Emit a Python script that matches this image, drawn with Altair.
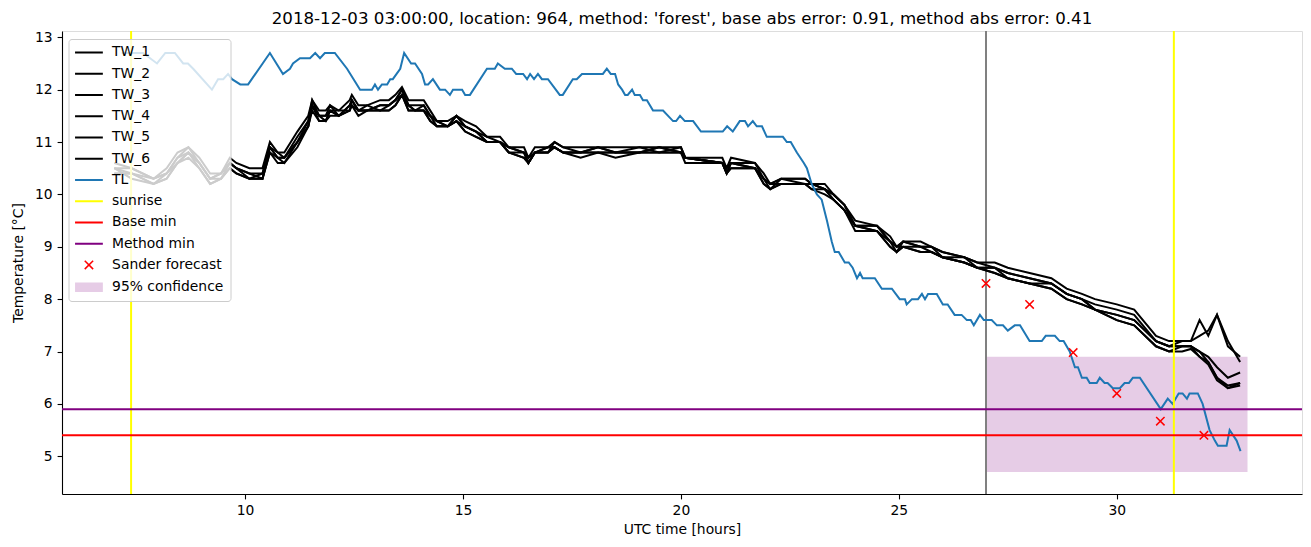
import altair as alt
import pandas as pd

title_text = "2018-12-03 03:00:00, location: 964, method: 'forest', base abs error: 0.91, method abs error: 0.41"

# ---- road (TW) sensors: shared time knots + six series ----
tw_time = [
    7.0, 7.4, 7.9, 8.2, 8.45, 8.7, 8.95, 9.2, 9.45, 9.65,
    9.8, 10.1, 10.4, 10.57, 10.75, 10.9, 11.2, 11.45, 11.54, 11.7,
    11.85, 11.95, 12.15, 12.4, 12.45, 12.6, 12.8, 13.1, 13.3, 13.45,
    13.6, 13.75, 13.9, 14.1, 14.25, 14.4, 14.65, 14.85, 15.05, 15.3,
    15.55, 15.85, 16.05, 16.4, 16.5, 16.65, 16.95, 17.1, 17.3, 17.7,
    18.1, 18.5, 19.05, 19.5, 20.0, 20.1, 20.95, 21.05, 21.15, 21.7,
    21.9, 22.05, 22.3, 22.85, 23.0, 23.3, 23.5, 23.75, 24.0, 24.5,
    24.8, 24.95, 25.1, 25.5, 25.75, 26.0, 26.5, 26.8, 27.2, 27.5,
    28.0, 28.5, 28.85, 29.2, 29.5, 30.0, 30.4, 30.9, 31.2, 31.5,
    31.7, 31.9, 32.1, 32.3, 32.55, 32.83,
]
tw_1 = [
    10.6, 10.5, 10.3, 10.5, 10.8, 10.9, 10.7, 10.4, 10.4, 10.7,
    10.6, 10.5, 10.5, 11.0, 10.8, 10.8, 11.2, 11.5, 11.8, 11.6,
    11.6, 11.7, 11.6, 11.8, 11.9, 11.7, 11.7, 11.8, 11.8, 11.9,
    12.05, 11.8, 11.8, 11.8, 11.6, 11.4, 11.4, 11.5, 11.4, 11.3,
    11.1, 11.1, 10.9, 10.9, 10.7, 10.9, 10.9, 11.0, 10.9, 10.9,
    10.9, 10.9, 10.9, 10.9, 10.9, 10.7, 10.7, 10.5, 10.7, 10.6,
    10.4, 10.2, 10.3, 10.3, 10.2, 10.2, 10.0, 9.8, 9.5, 9.4,
    9.2, 9.0, 9.1, 9.1, 9.0, 8.9, 8.8, 8.7, 8.7, 8.6,
    8.5, 8.4, 8.2, 8.1, 8.0, 7.9, 7.8, 7.3, 7.2, 7.2,
    7.2, 7.6, 7.3, 7.7, 7.1, 6.9,
]
tw_2 = [
    10.5, 10.4, 10.2, 10.4, 10.7, 10.9, 10.6, 10.3, 10.4, 10.6,
    10.5, 10.4, 10.4, 10.9, 10.7, 10.7, 11.1, 11.4, 11.8, 11.5,
    11.5, 11.7, 11.5, 11.7, 11.8, 11.6, 11.6, 11.7, 11.7, 11.8,
    12.0, 11.7, 11.7, 11.7, 11.5, 11.3, 11.3, 11.5, 11.3, 11.2,
    11.0, 11.0, 10.9, 10.8, 10.6, 10.8, 10.8, 11.0, 10.9, 10.8,
    10.9, 10.8, 10.9, 10.8, 10.9, 10.7, 10.6, 10.4, 10.6, 10.6,
    10.3, 10.1, 10.3, 10.3, 10.2, 10.1, 10.0, 9.8, 9.4, 9.4,
    9.1, 8.9, 9.1, 9.0, 9.0, 8.9, 8.8, 8.7, 8.6, 8.5,
    8.4, 8.3, 8.1, 8.0, 7.9, 7.8, 7.7, 7.2, 7.1, 7.2,
    7.2, 7.3, 7.4, 7.7, 7.2, 6.8,
]
tw_3 = [
    10.5, 10.5, 10.3, 10.4, 10.6, 10.8, 10.6, 10.3, 10.3, 10.6,
    10.5, 10.4, 10.3, 10.9, 10.8, 10.7, 11.0, 11.4, 11.7, 11.5,
    11.4, 11.6, 11.6, 11.6, 11.8, 11.6, 11.6, 11.7, 11.7, 11.8,
    11.9, 11.7, 11.6, 11.6, 11.5, 11.4, 11.3, 11.4, 11.3, 11.2,
    11.1, 11.0, 10.8, 10.8, 10.7, 10.8, 10.9, 10.9, 10.8, 10.8,
    10.8, 10.8, 10.8, 10.9, 10.8, 10.7, 10.6, 10.5, 10.6, 10.5,
    10.3, 10.2, 10.2, 10.2, 10.2, 10.1, 9.9, 9.7, 9.4, 9.3,
    9.1, 9.0, 9.0, 9.0, 8.9, 8.8, 8.8, 8.6, 8.6, 8.4,
    8.3, 8.3, 8.1, 8.0, 7.8, 7.7, 7.6, 7.2, 7.1, 7.1,
    7.1, 7.0, 6.9, 6.7, 6.5, 6.6,
]
tw_4 = [
    10.4, 10.4, 10.2, 10.3, 10.6, 10.8, 10.5, 10.2, 10.3, 10.5,
    10.4, 10.3, 10.3, 10.8, 10.7, 10.7, 11.0, 11.3, 11.7, 11.4,
    11.4, 11.6, 11.5, 11.6, 11.7, 11.5, 11.6, 11.6, 11.6, 11.7,
    11.9, 11.6, 11.6, 11.6, 11.4, 11.3, 11.3, 11.4, 11.2, 11.1,
    11.0, 11.0, 10.8, 10.7, 10.6, 10.8, 10.8, 10.9, 10.8, 10.7,
    10.8, 10.7, 10.8, 10.8, 10.8, 10.7, 10.6, 10.4, 10.5, 10.5,
    10.2, 10.1, 10.2, 10.2, 10.1, 10.0, 9.9, 9.7, 9.4, 9.3,
    9.0, 8.9, 9.0, 8.9, 8.9, 8.8, 8.7, 8.6, 8.5, 8.4,
    8.3, 8.2, 8.0, 7.9, 7.8, 7.6, 7.5, 7.1, 7.0, 7.1,
    7.1, 6.9, 6.8, 6.5, 6.35, 6.4,
]
tw_5 = [
    10.5, 10.3, 10.2, 10.3, 10.6, 10.7, 10.5, 10.2, 10.3, 10.5,
    10.4, 10.3, 10.3, 10.8, 10.6, 10.6, 10.9, 11.3, 11.6, 11.4,
    11.4, 11.5, 11.5, 11.6, 11.7, 11.6, 11.6, 11.6, 11.6, 11.7,
    11.9, 11.6, 11.6, 11.6, 11.4, 11.3, 11.3, 11.4, 11.2, 11.1,
    11.0, 11.0, 10.8, 10.7, 10.6, 10.8, 10.8, 10.9, 10.8, 10.8,
    10.8, 10.8, 10.8, 10.8, 10.8, 10.6, 10.6, 10.4, 10.5, 10.5,
    10.2, 10.1, 10.2, 10.2, 10.1, 10.1, 9.9, 9.7, 9.3, 9.3,
    9.0, 8.9, 9.0, 8.9, 8.9, 8.8, 8.7, 8.6, 8.5, 8.4,
    8.3, 8.2, 8.0, 7.9, 7.8, 7.6, 7.5, 7.1, 7.0, 7.0,
    7.05, 6.9, 6.75, 6.45, 6.3, 6.4,
]
tw_6 = [
    10.4, 10.4, 10.3, 10.4, 10.7, 10.8, 10.6, 10.3, 10.4, 10.6,
    10.5, 10.3, 10.4, 10.9, 10.7, 10.6, 11.0, 11.3, 11.7, 11.5,
    11.5, 11.6, 11.5, 11.7, 11.8, 11.6, 11.7, 11.6, 11.7, 11.8,
    12.0, 11.7, 11.6, 11.7, 11.5, 11.4, 11.3, 11.5, 11.3, 11.2,
    11.0, 11.0, 10.9, 10.8, 10.6, 10.8, 10.9, 10.9, 10.8, 10.8,
    10.9, 10.8, 10.8, 10.9, 10.8, 10.7, 10.6, 10.4, 10.6, 10.5,
    10.3, 10.2, 10.3, 10.2, 10.2, 10.1, 10.0, 9.8, 9.4, 9.4,
    9.1, 9.0, 9.1, 9.0, 9.0, 8.8, 8.7, 8.6, 8.6, 8.5,
    8.4, 8.3, 8.1, 8.0, 7.8, 7.7, 7.6, 7.2, 7.1, 7.1,
    7.1, 7.0, 6.8, 6.5, 6.3, 6.35,
]
tw_names = ["TW_1", "TW_2", "TW_3", "TW_4", "TW_5", "TW_6"]
tw_series = [tw_1, tw_2, tw_3, tw_4, tw_5, tw_6]

# ---- air temperature (TL) as (hour, value) pairs ----
tl_points = [
    (7.17, 12.7), (7.66, 12.7), (7.98, 12.5), (8.17, 12.7), (8.39, 12.7), (8.58, 12.5),
    (8.69, 12.5), (8.81, 12.4), (9.24, 12.0), (9.38, 12.2), (9.50, 12.2), (9.61, 12.3),
    (9.70, 12.2), (9.89, 12.1), (10.07, 12.1), (10.57, 12.7), (10.87, 12.3), (11.03, 12.4),
    (11.10, 12.5), (11.26, 12.6), (11.49, 12.6), (11.61, 12.7), (11.72, 12.6), (11.83, 12.7),
    (12.06, 12.7), (12.34, 12.4), (12.64, 12.0), (12.91, 12.0), (12.98, 12.1), (13.05, 12.0),
    (13.14, 12.1), (13.26, 12.1), (13.33, 12.2), (13.39, 12.2), (13.56, 12.4), (13.65, 12.7),
    (13.81, 12.5), (13.90, 12.5), (14.06, 12.3), (14.13, 12.1), (14.20, 12.1), (14.31, 12.2),
    (14.47, 12.0), (14.59, 12.0), (14.70, 11.9), (14.77, 12.0), (14.98, 12.0), (15.05, 11.9),
    (15.16, 11.9), (15.55, 12.4), (15.73, 12.4), (15.80, 12.5), (15.96, 12.4), (16.12, 12.4),
    (16.22, 12.3), (16.38, 12.3), (16.47, 12.2), (16.54, 12.3), (16.63, 12.2), (16.72, 12.3),
    (16.81, 12.2), (16.95, 12.2), (17.22, 11.9), (17.29, 11.9), (17.52, 12.2), (17.61, 12.2),
    (17.73, 12.3), (18.21, 12.3), (18.30, 12.4), (18.39, 12.3), (18.49, 12.3), (18.56, 12.1),
    (18.65, 12.0), (18.72, 11.9), (18.78, 11.9), (18.88, 12.0), (18.94, 11.9), (19.06, 11.9),
    (19.13, 11.8), (19.22, 11.8), (19.36, 11.6), (19.59, 11.6), (19.82, 11.4), (19.89, 11.4),
    (19.98, 11.5), (20.09, 11.4), (20.28, 11.4), (20.46, 11.2), (20.96, 11.2), (21.06, 11.3),
    (21.19, 11.2), (21.35, 11.4), (21.47, 11.4), (21.54, 11.3), (21.65, 11.4), (21.74, 11.3),
    (21.86, 11.3), (21.97, 11.1), (22.34, 11.1), (22.43, 11.0), (22.52, 11.0), (22.66, 10.8),
    (22.82, 10.6), (22.89, 10.5), (23.00, 10.2), (23.12, 10.0), (23.23, 9.9), (23.35, 9.5),
    (23.46, 9.1), (23.53, 8.9), (23.62, 8.9), (23.76, 8.7), (23.85, 8.7), (23.94, 8.6),
    (24.04, 8.4), (24.11, 8.5), (24.17, 8.4), (24.45, 8.4), (24.61, 8.2), (24.84, 8.2),
    (25.02, 8.0), (25.14, 8.0), (25.18, 7.9), (25.30, 8.0), (25.44, 8.0), (25.53, 8.1),
    (25.60, 8.0), (25.67, 8.1), (25.87, 8.1), (26.01, 7.9), (26.12, 7.9), (26.28, 7.7),
    (26.44, 7.7), (26.56, 7.6), (26.65, 7.6), (26.72, 7.5), (26.86, 7.7), (26.95, 7.6),
    (27.13, 7.6), (27.25, 7.5), (27.39, 7.5), (27.50, 7.4), (27.66, 7.5), (27.78, 7.5),
    (28.00, 7.2), (28.28, 7.2), (28.37, 7.3), (28.58, 7.3), (28.69, 7.2), (28.78, 7.2),
    (28.92, 7.0), (29.04, 6.7), (29.11, 6.7), (29.20, 6.5), (29.31, 6.5), (29.38, 6.4),
    (29.54, 6.4), (29.61, 6.5), (29.72, 6.4), (29.79, 6.4), (29.91, 6.3), (30.07, 6.3),
    (30.18, 6.4), (30.28, 6.4), (30.37, 6.5), (30.53, 6.5), (31.01, 5.9), (31.17, 6.1),
    (31.28, 6.0), (31.42, 6.2), (31.51, 6.2), (31.61, 6.1), (31.67, 6.2), (31.86, 6.2),
    (31.97, 6.0), (32.13, 5.5), (32.25, 5.3), (32.32, 5.2), (32.52, 5.2), (32.59, 5.5),
    (32.75, 5.3), (32.84, 5.1),
]

sunrise_times = [7.385, 31.31]
forecast_start = [27.0]
base_min = [5.4]
method_min = [5.9]
forecast_time = [27, 28, 29, 30, 31, 32]
forecast_temp = [8.3, 7.9, 6.98, 6.2, 5.67, 5.4]
conf_x = [27.0, 33.0]
conf_y = [4.7, 6.9]

legend_labels = ["TW_1", "TW_2", "TW_3", "TW_4", "TW_5", "TW_6", "TL", "sunrise",
                 "Base min", "Method min", "Sander forecast", "95% confidence"]
legend_colors = ["black"] * 6 + ["#1f77b4", "yellow", "red", "purple", "red", "#e6cce6"]
LINE_SYM = "M-13.9,-0.25H13.9M-13.9,0.25H13.9"
CROSS_SYM = "M-4.2,-4.2L4.2,4.2M-4.2,4.2L4.2,-4.2"
BOX_SYM = ("M-13.9,-4H13.9M-13.9,-3H13.9M-13.9,-2H13.9M-13.9,-1H13.9M-13.9,0H13.9"
           "M-13.9,1H13.9M-13.9,2H13.9M-13.9,3H13.9M-13.9,4H13.9")
legend_shapes = [LINE_SYM] * 10 + [CROSS_SYM, BOX_SYM]

# ---- tables ----
tw_rows = []
for name, vals in zip(tw_names, tw_series):
    for t, v in zip(tw_time, vals):
        tw_rows.append({"t": t, "v": v, "series": name})
tw_df = pd.DataFrame(tw_rows)
tl_df = pd.DataFrame({"t": [p[0] for p in tl_points], "v": [p[1] for p in tl_points]})
sun_df = pd.DataFrame({"t": sunrise_times})
start_df = pd.DataFrame({"t": forecast_start})
base_df = pd.DataFrame({"v": base_min})
meth_df = pd.DataFrame({"v": method_min})
fc_df = pd.DataFrame({"t": forecast_time, "v": forecast_temp, "series": ["Sander forecast"] * len(forecast_time)})
conf_df = pd.DataFrame({"x1": [conf_x[0]], "x2": [conf_x[1]], "y1": [conf_y[0]], "y2": [conf_y[1]]})

FONT = "DejaVu Sans"
FS = 13.89
axis_common = dict(
    grid=False, domainColor="black", domainWidth=1.1, tickColor="black", tickWidth=1.1,
    tickSize=4.9, labelPadding=5, labelFont=FONT, labelFontSize=FS, labelColor="black",
    titleFont=FONT, titleFontSize=FS, titleFontWeight="normal", titleColor="black",
)
x_scale = alt.Scale(domain=[5.8, 34.25], nice=False, zero=False)
y_scale = alt.Scale(domain=[4.28, 13.12], nice=False, zero=False)
x_axis = alt.Axis(values=[10, 15, 20, 25, 30], format="d", title="UTC time [hours]", titlePadding=5, **axis_common)
y_axis = alt.Axis(values=[5, 6, 7, 8, 9, 10, 11, 12, 13], format="d", title="Temperature [°C]", titlePadding=9, **axis_common)

X = alt.X("t:Q", scale=x_scale, axis=x_axis)
Y = alt.Y("v:Q", scale=y_scale, axis=y_axis)

conf = alt.Chart(conf_df).mark_rect(color="purple", opacity=0.2).encode(
    x=alt.X("x1:Q", scale=x_scale, axis=x_axis), x2="x2:Q",
    y=alt.Y("y1:Q", scale=y_scale, axis=y_axis), y2="y2:Q",
)
start_rule = alt.Chart(start_df).mark_rule(color="grey", strokeWidth=2).encode(x=X)
tw = alt.Chart(tw_df).mark_line(color="black", strokeWidth=2, clip=True).encode(
    x=X, y=Y, detail="series:N", order="t:Q"
)
tl = alt.Chart(tl_df).mark_line(color="#1f77b4", strokeWidth=2, clip=True).encode(x=X, y=Y, order="t:Q")
sun = alt.Chart(sun_df).mark_rule(color="yellow", strokeWidth=2).encode(x=X)
base = alt.Chart(base_df).mark_rule(color="red", strokeWidth=2).encode(y=Y)
meth = alt.Chart(meth_df).mark_rule(color="purple", strokeWidth=2).encode(y=Y)

leg = alt.Legend(
    title=None, orient="none", legendX=6.5, legendY=8,
    fillColor="rgba(255,255,255,0.8)", strokeColor="#cccccc", cornerRadius=3,
    padding=6.5, rowPadding=6.25, labelFont=FONT, labelFontSize=FS, labelColor="black",
    labelOffset=16.2, symbolOffset=7.0, symbolSize=4, symbolStrokeWidth=1.5,
    labelLimit=400, symbolOpacity=1,
)
fc = alt.Chart(fc_df).mark_point(filled=False, size=4, strokeWidth=1.5, opacity=1).encode(
    x=X, y=Y,
    color=alt.Color("series:N", scale=alt.Scale(domain=legend_labels, range=legend_colors), legend=leg),
    shape=alt.Shape("series:N", scale=alt.Scale(domain=legend_labels, range=legend_shapes), legend=leg),
)

chart = alt.layer(conf, start_rule, tw, tl, sun, base, meth, fc).properties(
    width=1240, height=463,
    title=alt.TitleParams(text=title_text, font=FONT, fontSize=16.67, fontWeight="normal",
                          anchor="middle", baseline="alphabetic", offset=8, dy=19, color="black"),
    autosize=alt.AutoSizeParams(type="none"),
    padding={"left": 62, "top": 31, "right": 9, "bottom": 53},
).configure_view(stroke="black", strokeWidth=1.1).configure(background="white")

chart.save("out.html", embed_options={"renderer": "svg", "actions": False})
